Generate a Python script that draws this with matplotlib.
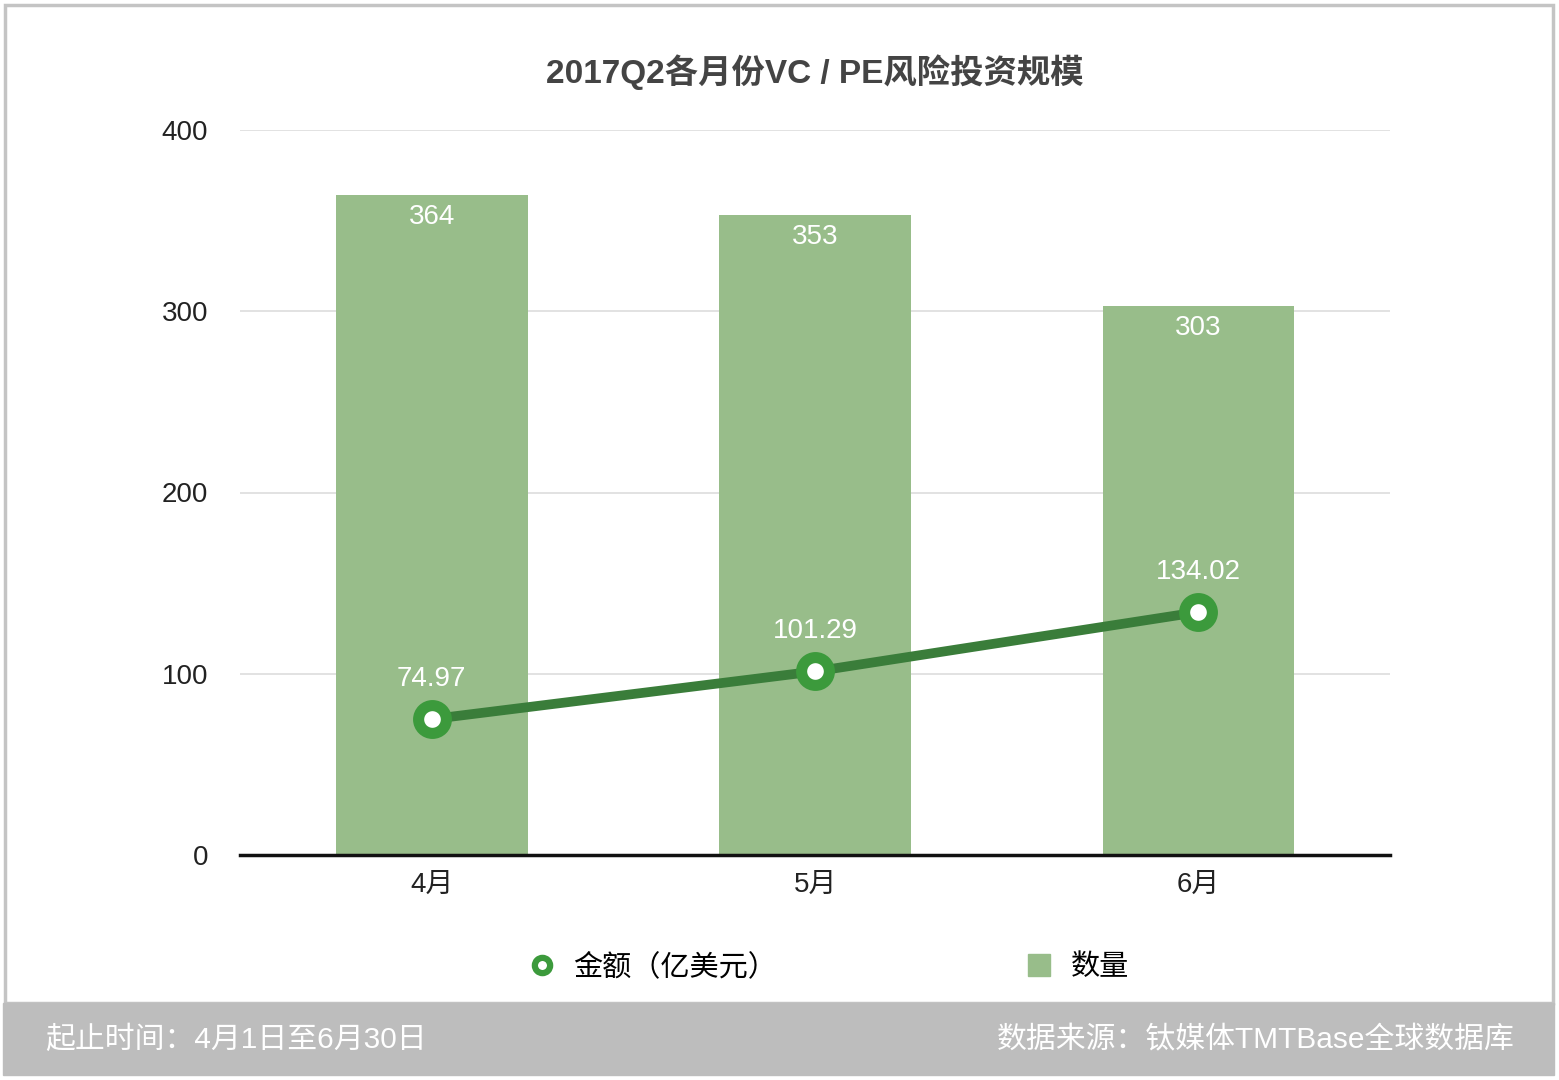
import matplotlib
matplotlib.use('Agg')
import matplotlib.pyplot as plt
from matplotlib.patches import Rectangle
from matplotlib.lines import Line2D

plt.rcParams['font.family'] = ['Liberation Sans', 'Noto Sans CJK SC', 'DejaVu Sans']

# データ
months = ['4月', '5月', '6月']
counts = [364, 353, 303]          # 数量
amounts = [74.97, 101.29, 134.02]  # 金额（亿美元）
yticks = [0, 100, 200, 300, 400]

bar_color = '#98bd8a'
line_color = '#3a7d3a'
marker_color = '#3c9a3c'

fig = plt.figure(figsize=(15.59, 10.8), dpi=100)
ax = fig.add_axes([240/1559, 1-855/1080, 1150/1559, 725/1080])

x = list(range(len(months)))
ax.bar(x, counts, width=0.5, color=bar_color, zorder=2)
for xi, c in zip(x, counts):
    ax.text(xi, c - 5, str(c), ha='center', va='top', color='white', fontsize=20, zorder=5)

ax.plot(x, amounts, color=line_color, lw=7, zorder=3, solid_capstyle='round')
ax.plot(x, amounts, 'o', ms=20, mfc='white', mec=marker_color, mew=8, zorder=4)
for xi, a in zip(x, amounts):
    ax.text(xi, a + 15, '%.2f' % a, ha='center', va='bottom', color='white', fontsize=20, zorder=5)

ax.set_xlim(-0.5, 2.5)
ax.set_ylim(0, 400)
ax.set_yticks(yticks)
ax.set_xticks(x)
ax.set_xticklabels(months)
ax.tick_params(axis='both', length=0, labelsize=20, colors='#222222')
ax.tick_params(axis='y', pad=23)
ax.tick_params(axis='x', pad=12)
ax.yaxis.grid(True, color='#dddddd', lw=1.2, zorder=0)
ax.set_axisbelow(True)
for s in ['top', 'right', 'left']:
    ax.spines[s].set_visible(False)
ax.spines['bottom'].set_color('#111111')
ax.spines['bottom'].set_linewidth(2.5)
ax.spines['bottom'].set_zorder(6)

fig.text(815/1559, 1-72/1080, '2017Q2各月份VC / PE风险投资规模', ha='center', va='center',
         fontsize=24, fontweight='bold', color='#444444')

# 凡例
handles = [Line2D([], [], marker='o', ls='none', ms=11, mfc='white', mec=marker_color, mew=4.5),
           Rectangle((0, 0), 1, 1, color=bar_color)]
fig.legend(handles, ['金额（亿美元）', '数量'], loc='center', ncol=2,
           bbox_to_anchor=(830/1559, 1-967/1080), frameon=False, fontsize=21,
           columnspacing=8.6, handlelength=0.75, handleheight=0.75, handletextpad=0.7)

# 枠とフッター
fig.patches.append(Rectangle((5/1559, 1-1003/1080), 1548/1559, 998/1080, transform=fig.transFigure,
                             fill=False, ec='#c4c4c4', lw=2.5))
fig.patches.append(Rectangle((3/1559, 1-1075/1080), 1551/1559, 72/1080, transform=fig.transFigure,
                             color='#bdbdbd'))
fig.text(45/1559, 1-1040/1080, '起止时间：4月1日至6月30日', ha='left', va='center',
         fontsize=21.5, color='white')
fig.text(1515/1559, 1-1040/1080, '数据来源：钛媒体TMTBase全球数据库', ha='right', va='center',
         fontsize=21.5, color='white')

fig.savefig('out.png', dpi=100, facecolor='white')
